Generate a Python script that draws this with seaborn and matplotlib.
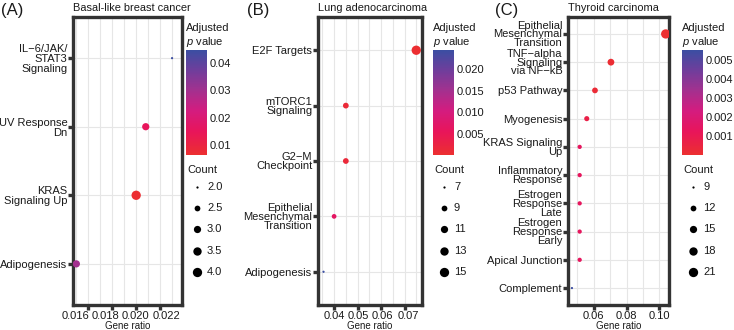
import pandas as pd
import matplotlib
matplotlib.use("Agg")
import matplotlib.pyplot as plt
import matplotlib.transforms as mtrans
import seaborn as sns
from matplotlib.colors import LinearSegmentedColormap, Normalize
from matplotlib.cm import ScalarMappable
from matplotlib.ticker import MultipleLocator

# =====================================================
# DATA
# =====================================================

a_terms = ["IL−6/JAK/\nSTAT3\nSignaling", "UV Response\nDn", "KRAS\nSignaling Up", "Adipogenesis"]
a_ratio = [0.0230, 0.0208, 0.0200, 0.0150]
a_count = [2, 3, 4, 3]
a_padj = [0.0448, 0.0150, 0.0068, 0.0300]
a_xticks = [0.016, 0.018, 0.020, 0.022]

b_terms = ["E2F Targets", "mTORC1\nSignaling", "G2−M\nCheckpoint",
           "Epithelial\nMesenchymal\nTransition", "Adipogenesis"]
b_ratio = [0.0750, 0.0450, 0.0450, 0.0400, 0.0355]
b_count = [15, 9, 9, 8, 7]
b_padj = [0.0003, 0.0012, 0.0015, 0.0065, 0.0245]
b_xticks = [0.04, 0.05, 0.06, 0.07]

c_terms = ["Epithelial\nMesenchymal\nTransition", "TNF−alpha\nSignaling\nvia NF−kB",
           "p53 Pathway", "Myogenesis", "KRAS Signaling\nUp", "Inflammatory\nResponse",
           "Estrogen\nResponse\nLate", "Estrogen\nResponse\nEarly", "Apical Junction",
           "Complement"]
c_ratio = [0.1038, 0.0705, 0.0608, 0.0558, 0.0515, 0.0515, 0.0515, 0.0515, 0.0515, 0.0468]
c_count = [21, 14, 12, 11, 10, 10, 10, 10, 10, 9]
c_padj = [0.00002, 0.0001, 0.0002, 0.0007, 0.0013, 0.0013, 0.0013, 0.0013, 0.0013, 0.0055]
c_xticks = [0.06, 0.08, 0.10]

# =====================================================
# STYLE
# =====================================================

W, H = 734, 330
sns.set_theme(style="white")
plt.rcParams["font.family"] = ["Liberation Sans", "DejaVu Sans"]
plt.rcParams["mathtext.fontset"] = "custom"
plt.rcParams["mathtext.it"] = "Liberation Sans:italic"
plt.rcParams["mathtext.rm"] = "Liberation Sans"

TXT = "#1a1a1a"
BORDER = "#333333"
GRID = "#e6e6e6"

cmap = LinearSegmentedColormap.from_list(
    "padj",
    [(0.0, "#ec2f30"), (0.22, "#e8155a"), (0.42, "#d41c7f"),
     (0.62, "#a2318f"), (0.80, "#713d9b"), (1.0, "#3b4ea2")]
)

fig = plt.figure(figsize=(W / 100, H / 100), dpi=100)


def px_axes(x0, y0, x1, y1):
    return fig.add_axes([x0 / W, 1 - y1 / H, (x1 - x0) / W, (y1 - y0) / H])


def ftext(x, y, s, **kw):
    fig.text(x / W, 1 - y / H, s, **kw)


def dot_area(c, cmin, cmax):
    d = 1.6 + 5.1 * ((c - cmin) / (cmax - cmin)) ** 0.5
    return d ** 2


# overlay for legend dots, in pixel coordinates
over = fig.add_axes([0, 0, 1, 1], zorder=10)
over.set_xlim(0, W)
over.set_ylim(H, 0)
over.axis("off")


def panel(box, letter, title, terms, ratio, count, padj, xlim, xticks, minor,
          xfmt, xshift, prange, pticks, pfmt, leg_vals, leg_fmt, leg, lsp):
    x0, y0, x1, y1 = box
    ax = px_axes(x0, y0, x1, y1)
    df = pd.DataFrame({"term": terms, "ratio": ratio, "count": count, "padj": padj})
    cmin, cmax = leg_vals[0], leg_vals[-1]
    sizes = {c: dot_area(c, cmin, cmax) for c in sorted(set(count))}
    norm = Normalize(*prange)

    sns.scatterplot(
        data=df, x="ratio", y="term", hue="padj", palette=cmap, hue_norm=norm,
        size="count", sizes=sizes, linewidth=0, legend=False, ax=ax, zorder=3
    )

    n = len(terms)
    ax.set_ylim(n - 0.4, -0.6)
    ax.set_xlim(*xlim)
    ax.set_xticks(xticks)
    ax.set_xticklabels([xfmt % t for t in xticks])
    ax.xaxis.set_minor_locator(MultipleLocator(minor))
    ax.grid(True, which="both", axis="x", color=GRID, linewidth=0.8)
    ax.grid(True, which="major", axis="y", color=GRID, linewidth=0.8)
    ax.set_axisbelow(True)
    for s in ax.spines.values():
        s.set_visible(True)
        s.set_color(BORDER)
        s.set_linewidth(2.4)
    ax.tick_params(which="major", length=3.5, width=2.4, color=BORDER,
                   labelsize=8, labelcolor=TXT, pad=0.6, bottom=True, left=True)
    ax.tick_params(which="minor", length=0)
    for lab in ax.get_yticklabels():
        lab.set_ha("right")
        lab.set_multialignment("right")
        lab.set_linespacing(lsp)
    for lab, dx in zip(ax.get_xticklabels(), xshift):
        lab.set_transform(lab.get_transform() +
                          mtrans.ScaledTranslation(dx / 100, 0, fig.dpi_scale_trans))
    ax.set_ylabel("")
    ax.set_xlabel("Gene ratio", fontsize=7, color=TXT, labelpad=0)

    # panel letter and title
    ftext(x0 - leg["lx"], 10, letter, fontsize=12, color=TXT, va="center")
    ftext(x0, 8, title, fontsize=7.9, color=TXT, va="center")

    # colour legend
    lx = leg["x"]
    ftext(lx, 28, "Adjusted", fontsize=8, color=TXT, va="center")
    ftext(lx, 42, "$\\it{p}$ value", fontsize=8, color=TXT, va="center")
    cax = px_axes(lx, 50, lx + 20.5, 155)
    cb = fig.colorbar(ScalarMappable(norm=norm, cmap=cmap), cax=cax)
    cb.outline.set_visible(False)
    cb.set_ticks(pticks)
    cb.set_ticklabels([pfmt % t for t in pticks])
    cax.tick_params(left=True, right=True, labelleft=False, labelright=True,
                    direction="in", color="white", length=3.5, width=0.8,
                    labelsize=8, labelcolor=TXT, pad=2)

    # size legend
    ftext(lx + 1.5, 170, "Count", fontsize=8, color=TXT, va="center")
    for i, v in enumerate(leg_vals):
        yy = 187 + i * 21.2
        over.scatter(lx + 10.5, yy, s=dot_area(v, cmin, cmax), color="black",
                     linewidth=0)
        ftext(lx + 21, yy, leg_fmt % v, fontsize=8, color=TXT, va="center")


panel((73, 17, 182, 305), "(A)", "Basal-like breast cancer",
      a_terms, a_ratio, a_count, a_padj,
      (0.01472, 0.02383), a_xticks, 0.001, "%.3f", [-13, -7, -1, 6],
      (0.0063, 0.0448), [0.01, 0.02, 0.03, 0.04], "%.2f",
      [2.0, 2.5, 3.0, 3.5, 4.0], "%.1f", {"x": 186, "lx": 72}, 1.0)

panel((318, 17, 422, 305), "(B)", "Lung adenocarcinoma",
      b_terms, b_ratio, b_count, b_padj,
      (0.03314, 0.07745), b_xticks, 0.005, "%.2f", [0, 1, 1, 4],
      (0.0001, 0.0245), [0.005, 0.010, 0.015, 0.020], "%.3f",
      [7, 9, 11, 13, 15], "%d", {"x": 433, "lx": 71}, 0.9)

panel((568, 17, 669, 305), "(C)", "Thyroid carcinoma",
      c_terms, c_ratio, c_count, c_padj,
      (0.0444, 0.1058), c_xticks, 0.01, "%.2f", [0, 0, 0],
      (0.0, 0.00553), [0.001, 0.002, 0.003, 0.004, 0.005], "%.3f",
      [9, 12, 15, 18, 21], "%d", {"x": 682, "lx": 73}, 0.85)

fig.savefig("out.png", dpi=100)
